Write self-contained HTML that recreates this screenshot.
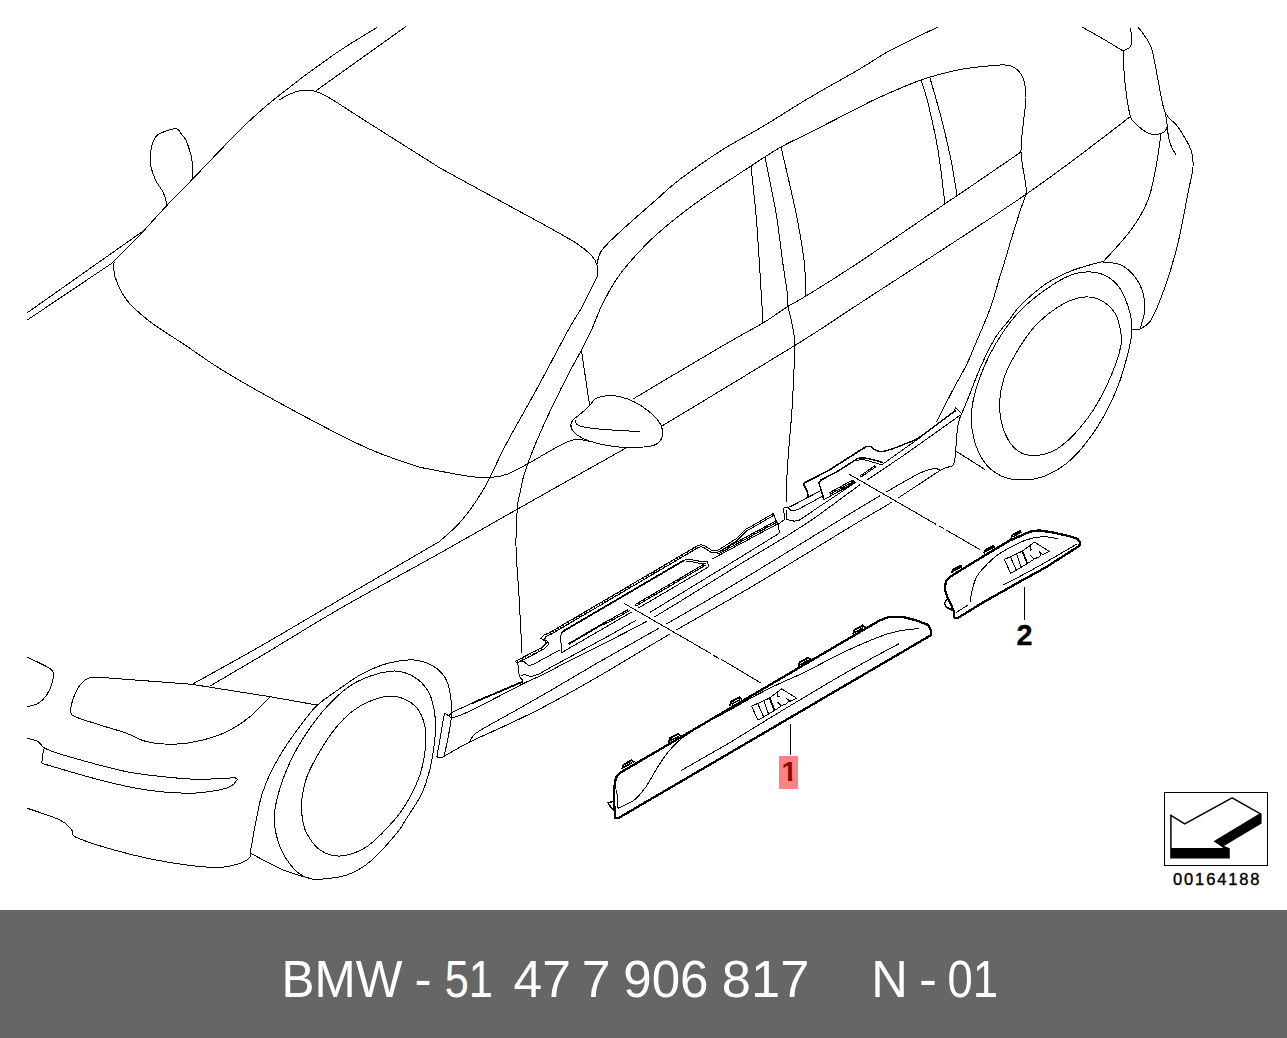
<!DOCTYPE html>
<html lang="en">
<head>
<meta charset="utf-8">
<title>BMW - 51 47 7 906 817 N - 01</title>
<style>
html,body{margin:0;padding:0;background:#fff;}
body{width:1287px;height:1038px;position:relative;overflow:hidden;font-family:"Liberation Sans",sans-serif;}
#draw{position:absolute;left:0;top:0;width:1287px;height:1038px;display:block;}
#draw path{fill:none;stroke:#000;stroke-width:1;stroke-linecap:butt;stroke-linejoin:round;shape-rendering:crispEdges;}
#draw .f{fill:#000;stroke:none;}
#draw text{font-family:"Liberation Sans",sans-serif;}
</style>
</head>
<body>
<svg id="draw" width="1287" height="1038" viewBox="0 0 1287 1038">
<rect x="0" y="0" width="1287" height="910" fill="#fff"/>
<path d="M27.3,312.7 L141,232.5"/>
<path d="M27.3,320 L112.5,262.8 L141.7,233"/>
<path d="M141.7,233 C145.9,228.4 158.4,214.5 166.7,205.7 C175,196.9 178.9,193.2 191.7,180 C204.5,166.8 229.1,140.5 243.3,126.7 C257.5,112.9 261.7,109.2 276.7,97.3 C291.7,85.3 316.5,66.7 333.3,55 C350.1,43.3 370,31.9 377.3,27.3"/>
<path d="M316,90.7 L405.7,26.7"/>
<path d="M167,205 C166.4,203 165.4,197.2 163.5,193 C161.6,188.8 157.6,184.4 155.5,180 C153.4,175.6 151.8,171 151,166.6 C150.2,162.2 150.4,157.5 150.6,153.6 C150.8,149.7 151.4,146.3 152.4,143.3 C153.4,140.3 155,137.5 156.8,135.6 C158.6,133.7 161.1,133.1 163.3,132.1 C165.5,131.1 167.5,130.3 169.8,129.8 C172.1,129.3 175.3,128.2 177.3,129.1 C179.3,129.9 180.6,133.2 182,134.9 C183.4,136.7 184.6,137.6 185.7,139.6 C186.8,141.6 187.6,144.2 188.5,147 C189.4,149.8 190.7,153.1 191.3,156.4 C192,159.7 192.2,162.7 192.4,166.6 C192.6,170.5 192.5,177.8 192.5,180"/>
<path d="M279.3,100 C281.1,99 286.3,95.6 290,94 C293.7,92.4 297.8,91 301.7,90.5 C305.6,90 308.6,89.4 313.3,90.7 C318,92 321.1,93.1 330,98.3 C338.9,103.5 350.2,111.2 366.7,121.7 C383.2,132.2 415.3,152.4 429,161 C442.7,169.6 430.7,162.8 449,173 C467.3,183.2 517.8,210.3 539,222 C560.2,233.7 567.3,237.5 576,243 C584.7,248.5 587.5,251.3 591,255 C594.5,258.7 596,261.3 597,265 C598,268.7 597,275 597,277"/>
<path d="M114,261.7 C114.2,264.2 112.9,270.3 115,276.7 C117.1,283.1 120.9,292.5 126.7,300 C132.5,307.5 140.3,314.2 150,321.7 C159.7,329.2 172.2,336.4 185,345 C197.8,353.6 207.8,361.5 227,373 C246.2,384.5 276.7,401.5 300,414 C323.3,426.5 348.2,439.5 367,448 C385.8,456.5 402.7,461.5 413,465 C423.3,468.5 419.4,467.1 429,469 C438.6,470.9 460.1,475.1 470.3,476.5 C480.6,477.9 484.4,477.9 490.5,477.5 C496.6,477.1 500.6,476.6 506.7,474.4 C512.8,472.2 516.5,469.9 526.9,464.3 C537.3,458.8 558.9,444.9 569.3,441.1 C579.7,437.3 586.1,441.3 589.5,441.3"/>
<path d="M597,277 C594.5,282 586.8,298.2 582,307 C577.2,315.8 575.8,316.4 568.3,330 C560.8,343.6 547.3,369.8 537,388.6 C526.7,407.5 515.6,426.3 506.7,443.1 C497.8,459.9 490.8,476.8 483.4,489.6 C475.9,502.4 469.2,511.4 462,520 C454.8,528.6 445.5,536.4 440,541 C434.5,545.6 445.4,538 429,547.6 C412.6,557.2 369.6,582.2 341.6,598.6 C313.6,615 285.6,631.8 260.8,646 C236.1,660.2 204.4,677.5 193.1,683.8"/>
<path d="M597,264 C597.8,261.7 597.8,255.7 602,250 C606.2,244.3 613,238.3 622,230 C631,221.7 646.5,208.3 656,200 C665.5,191.7 668,188.3 679,180 C690,171.7 708.2,158.8 722,150 C735.8,141.2 747.5,135.7 762,127 C776.5,118.3 793,107.5 809,98 C825,88.5 844.3,78 858,70 C871.7,62 877.7,57.2 891,50 C904.3,42.8 930.2,30.8 938,27"/>
<path d="M522,653 C521.5,643.5 520,613.8 519,596 C518,578.2 516.2,561 516,546 C515.8,531 516.7,515.4 517.5,506 C518.3,496.6 519.8,494.7 520.8,489.6 C521.8,484.5 522.1,481.2 523.8,475.5 C525.5,469.8 528,462.7 530.9,455.3 C533.8,447.9 537.3,439.4 541,431 C544.7,422.6 548.4,414.5 553.1,404.7 C557.8,394.9 564.6,381.5 569.3,372.4 C574,363.3 577.7,357.3 581.4,350.2 C585.1,343.1 588.1,337.5 591.5,330 C594.9,322.5 597.9,313.3 602,305 C606.1,296.7 611.5,287 616,280 C620.5,273 622.3,270.5 629,263 C635.7,255.5 644.8,245 656,235 C667.2,225 680.2,214.5 696,203 C711.8,191.5 736.8,175.3 751,166 C765.2,156.7 771.3,152.5 781,147 C790.7,141.5 796.2,139.5 809,133 C821.8,126.5 846.5,113.8 858,108 C869.5,102.2 867.5,102.7 878,98 C888.5,93.3 907.7,84.7 921,80 C934.3,75.3 946.8,72.3 958,70 C969.2,67.7 980.2,66.8 988,66 C995.8,65.2 1000.5,64.7 1005,65 C1009.5,65.3 1012,65.8 1015,68 C1018,70.2 1021.2,73.2 1023,78 C1024.8,82.8 1025.8,90.5 1026,97 C1026.2,103.5 1024.8,107.8 1024,117 C1023.2,126.2 1020.8,141.5 1021,152 C1021.2,162.5 1024.2,173.2 1025,180 C1025.8,186.8 1026.8,187.9 1026,193 C1025.2,198.1 1022,204.9 1020.2,210.5 C1018.4,216.1 1016.9,221.3 1015.2,226.7 C1013.5,232.1 1011.6,237.8 1010.1,242.8 C1008.6,247.9 1007.8,251.4 1006.1,257 C1004.4,262.6 1002.7,267.5 1000,276.2 C997.3,284.9 994.2,297.5 990,309 C985.8,320.5 978.9,335.8 975,345 C971.1,354.2 970.5,356.8 966.7,364.4 C963,372 957.5,381.1 952.5,390.7 C947.5,400.3 939.1,416.8 936.4,422"/>
<path d="M751,166 C752,176.2 755,200.8 757,227 C759,253.2 762,307 763,323"/>
<path d="M765,157 C766.8,166.3 772.9,194.5 776,213 C779.1,231.5 781.7,255.2 783.5,268 C785.3,280.8 786.2,283.6 786.9,290 C787.6,296.4 787.2,301.5 787.9,306.2 C788.6,310.9 790,314.3 790.9,318.3 C791.8,322.3 792.6,326 793.3,330.4 C794,334.8 794.7,339.4 794.9,344.5 C795.1,349.6 794.5,354.6 794.3,360.7 C794.1,366.8 793.9,372.5 793.5,380.9 C793.1,389.3 792.5,402.1 791.9,411.2 C791.3,420.3 790.7,425.7 789.9,435.5 C789.1,445.3 787.9,458.6 787.3,469.8 C786.6,481.1 786.2,497.5 786,503"/>
<path d="M781,147 C783.5,158 792.2,194.2 796,213 C799.8,231.8 802.3,246.2 804,260 C805.7,273.8 805.7,290 806,296"/>
<path d="M633,399 C648.2,390 702.3,357.7 724,345 C745.7,332.3 752.5,329.3 763,323 C773.5,316.7 779.8,311.5 787,307 C794.2,302.5 794.2,303.3 806,296 C817.8,288.7 834.8,278.4 858,263 C881.2,247.6 928.5,215 945,203.8 C961.5,192.6 944.3,204.4 957,195.8 C969.7,187.2 1010.3,159.3 1021,152"/>
<path d="M210.3,685.9 C218.7,681 238.9,669.2 260.8,656.2 C282.7,643.2 311.7,624.9 341.6,607.7 C371.5,590.5 408.6,570.7 440,553.1 C471.4,535.5 499,519.5 530,502 C561,484.5 610,457 626,448"/>
<path d="M662,426 C684,412.7 761.3,366.2 794,346 C826.7,325.8 819.5,329.7 858,304.5 C896.5,279.3 979.7,226.2 1025,195 C1070.3,163.8 1112.5,130 1130,117"/>
<path d="M921,80 C922.2,83.8 925.2,91.3 928,103 C930.8,114.7 935.2,133.2 938,150 C940.8,166.8 943.8,195 945,204"/>
<path d="M930,78 C931.8,84.5 937.5,103.3 941,117 C944.5,130.7 948.3,146.9 951,160 C953.7,173.1 956,189.8 957,195.8"/>
<path d="M1082,27 C1085.8,29.2 1098.2,36 1105,40 C1111.8,44 1120,49.2 1123,51"/>
<path d="M1123,51 C1124.2,50.3 1128.5,49.2 1130,47 C1131.5,44.8 1132,41.2 1132,38 C1132,34.8 1130.3,29.7 1130,28"/>
<path d="M1123,51 C1123.3,56.3 1123.8,72.3 1125,83 C1126.2,93.7 1128.3,108.3 1130,115 C1131.7,121.7 1132,120 1135,123 C1138,126 1143.7,131.2 1148,133 C1152.3,134.8 1157.8,134.5 1161,133.5 C1164.2,132.5 1166.3,130.6 1167,127 C1167.7,123.4 1165.3,114.5 1165,112"/>
<path d="M1138,27 C1140.2,30.3 1147.7,38.2 1151,47 C1154.3,55.8 1155.7,69.2 1158,80 C1160.3,90.8 1161.7,104.2 1165,112 C1168.3,119.8 1173.7,120.7 1178,127 C1182.3,133.3 1188.5,143.3 1191,150 C1193.5,156.7 1193.5,159.8 1193,167 C1192.5,174.2 1190.5,180.3 1188,193 C1185.5,205.7 1181.8,227.3 1178,243 C1174.2,258.7 1169.5,274.2 1165,287 C1160.5,299.8 1155.2,313 1151,320 C1146.8,327 1141.8,327.5 1140,329"/>
<path d="M1167,127 C1167.5,129.7 1168.5,138.3 1170,143 C1171.5,147.7 1175,153 1176,155"/>
<path d="M1161,133.5 C1160.2,139.1 1158.2,155.9 1156,167 C1153.8,178.1 1152.2,189.5 1148,200 C1143.8,210.5 1138.5,219.7 1131,230 C1123.5,240.3 1107.7,256.7 1103,262"/>
<path d="M1132,329 L1140,329"/>
<path d="M1103,261.6 C1100.2,262.3 1091.4,264.4 1086,266 C1080.6,267.6 1075.9,269 1070.7,271.1 C1065.5,273.2 1059.7,276 1055,278.5 C1050.3,281 1048.2,281.8 1042.4,286.3 C1036.6,290.8 1025.8,299.9 1020.2,305.5 C1014.7,311.1 1013.3,314.6 1009.1,320 C1004.9,325.4 999.7,330.4 995,338.2 C990.3,345.9 985.2,356.7 980.8,366.5 C976.4,376.3 971.9,388.9 968.7,396.8 C965.5,404.7 962.8,411.1 961.6,414"/>
<path d="M1103,262 C1106,262.5 1115.7,262.5 1121,265 C1126.3,267.5 1131.3,272.3 1135,277 C1138.7,281.7 1141.3,287.5 1143,293 C1144.7,298.5 1145.5,304 1145,310 C1144.5,316 1140.8,325.8 1140,329"/>
<path d="M1132,329 C1132,323.5 1131.8,319.5 1130,313 C1128.2,306.5 1124.7,296 1121,290 C1117.3,284 1113,280 1108,277 C1103,274 1097.2,272.3 1091,272 C1084.8,271.7 1078.7,272 1071,275 C1063.3,278 1053.8,283.7 1045,290 C1036.2,296.3 1026.3,303.8 1018,313 C1009.7,322.2 1001.7,333.4 995,345 C988.3,356.6 981.9,371.4 978,382.7 C974.1,394 972.2,403.3 971.5,412.7 C970.8,422.1 971.8,431 974,439.3 C976.2,447.6 980.2,456.6 984.7,462.7 C989.2,468.8 995.2,473.1 1001.3,476 C1007.4,478.9 1014.1,480 1021.3,480 C1028.5,480 1036.4,479.4 1044.7,476 C1053,472.6 1062.4,467.6 1071.3,459.3 C1080.2,451 1090.2,438.2 1098,426 C1105.8,413.8 1112.7,399.3 1118,386 C1123.3,372.7 1127.4,355.5 1129.7,346 C1132,336.5 1132,334.5 1132,329Z"/>
<path d="M1021,345 C1026.5,336.2 1031.8,329.3 1038,323 C1044.2,316.7 1051.3,311.2 1058,307 C1064.7,302.8 1071.8,299.5 1078,298 C1084.2,296.5 1089.7,296.5 1095,298 C1100.3,299.5 1106.2,303.3 1110,307 C1113.8,310.7 1116.2,313.7 1118,320 C1119.8,326.3 1122.7,334.6 1121,345 C1119.3,355.4 1113.5,370.6 1108,382.7 C1102.5,394.8 1095.8,407.1 1088,417.7 C1080.2,428.2 1069.6,439.7 1061.3,446 C1053,452.3 1045.2,454.5 1038,455.3 C1030.8,456.1 1023.5,454.8 1018,451 C1012.5,447.2 1007.8,440.2 1004.7,432.7 C1001.7,425.2 999.7,415.4 999.7,406 C999.7,396.6 1001.2,386.2 1004.7,376 C1008.2,365.8 1015.5,353.8 1021,345Z"/>
<path d="M956.5,451.5 L984.7,469.3"/>
<path d="M589.5,405.8 C592.2,403.1 592.6,400.4 595.6,398.7 C598.6,397 603.7,396 607.7,395.7 C611.7,395.4 615.4,395.7 619.8,396.7 C624.2,397.7 629.2,399.3 633.9,401.7 C638.6,404.1 643.9,407.4 648.1,410.8 C652.3,414.2 656.8,418.5 659.2,421.9 C661.6,425.3 662.3,428.1 662.6,431 C662.9,433.9 662.6,436.7 661.2,439.1 C659.8,441.5 658.7,443.8 654.1,445.2 C649.5,446.6 641,447.4 633.9,447.6 C626.8,447.8 619.1,447.3 611.7,446.2 C604.3,445.1 595.2,443 589.5,441.1 C583.8,439.2 580.4,437.3 577.4,435.1 C574.4,432.9 572.1,430.4 571.3,428 C570.4,425.6 570.9,423.1 572.3,420.9 C573.6,418.7 576.5,417.3 579.4,414.8 C582.3,412.3 586.8,408.5 589.5,405.8Z"/>
<path d="M575.4,419.9 C575.7,420.7 575,423.5 577.4,424.9 C579.8,426.2 583.8,427.1 589.5,428 C595.2,428.9 603.3,429.4 611.7,430 C620.1,430.6 635.3,431.3 640,431.6"/>
<path d="M581.4,350.2 L589.5,404.7"/>
<path d="M27.3,657.3 C31.4,659.4 47.5,665.9 51.7,670 C55.9,674.1 53.1,677.5 52.3,681.7 C51.5,685.9 49,691.4 46.7,695 C44.4,698.6 41.5,701.3 38.3,703.3 C35.1,705.2 29.1,706.1 27.3,706.7"/>
<path d="M270,696.7 C266.7,700 257.2,710.9 250,716.7 C242.8,722.5 235,727.7 226.7,731.7 C218.4,735.7 208.9,738.6 200,740.7 C191.1,742.8 182.2,744.1 173.3,744.3 C164.4,744.5 154.5,743.5 146.7,741.7 C138.9,739.9 134.5,736.1 126.7,733.3 C118.9,730.5 108.3,727.7 100,725 C91.7,722.3 81.6,719.5 76.7,717.3 C71.8,715.1 71.3,714.9 70.7,711.7 C70.1,708.5 71.8,702.8 73.3,698.3 C74.8,693.8 77.5,688.3 80,685 C82.5,681.7 85,679.6 88.3,678.3 C91.6,677 98,677.5 100,677.3"/>
<path d="M100,677.3 L191.7,684.3 L270,696.7 L316.7,705"/>
<path d="M27.3,738.3 C29.1,738.9 35.3,740 38.3,741.7 C41.2,743.4 40.3,745.9 45,748.3 C49.7,750.7 53.1,752.1 66.7,756 C80.3,759.9 108.9,768.1 126.7,771.7 C144.5,775.3 161.1,776.4 173.3,777.7 C185.5,779 189.7,779.3 200,779.3 C210.3,779.3 229.2,778 235,777.7"/>
<path d="M235,777.7 C235.3,778.1 237.8,778.5 237,780 C236.2,781.5 233.9,784.9 230,786.7 C226.1,788.5 220.5,789.9 213.3,791 C206.1,792.1 197.8,793.5 186.7,793.3 C175.6,793.1 161.1,792.2 146.7,790 C132.2,787.8 117.5,784.5 100,780 C82.5,775.5 51.4,766.1 41.7,763.3"/>
<path d="M41.7,763.3 L43.5,749.5"/>
<path d="M27.3,808.3 C32.8,810.2 52.6,816.4 60,820 C67.4,823.6 68.7,827 71.7,830 C74.8,833 68,834.1 78.3,838.3 C88.6,842.5 115.2,850.5 133.3,855 C151.4,859.5 172.2,863 186.7,865 C201.1,867 211.1,867.6 220,867.3 C228.9,867 235,865 240,863.3 C245,861.6 248.2,859.5 250,857.3 C251.8,855.1 250.6,851.2 250.7,850"/>
<path d="M250.7,850 C251.6,845 254.3,829.2 256.2,819.8 C258.1,810.4 259.5,801.9 262.2,793.5 C264.9,785.1 268.2,777.4 272.3,769.3 C276.4,761.2 281.4,752.9 286.5,745.1 C291.6,737.4 297.6,729.4 302.6,722.8 C307.7,716.2 311.1,711.1 316.8,705.7 C322.5,700.3 329.6,695.7 337,690.5 C344.4,685.3 353.8,678.5 361.2,674.3 C368.6,670.1 374.7,667.6 381.4,665.3 C388.1,663 395.9,661.5 401.6,660.6 C407.3,659.8 411.1,659.6 415.8,660.2 C420.5,660.8 425.5,662 429.9,664.2 C434.3,666.4 439,669.9 442,673.3 C445,676.7 446.6,679.8 448.1,684.4 C449.6,689 450.5,695.5 451.1,700.6 C451.7,705.7 451.8,709.8 451.5,714.7 C451.2,719.6 450.7,723.3 449.5,730 C448.3,736.7 445.3,750.8 444.5,755"/>
<path d="M250.7,853.3 C256.1,856.1 272.9,865.7 283.3,870 C293.7,874.3 308.3,877.8 313.3,879.3"/>
<path d="M274.3,819.8 C274,810.9 275.7,803.3 278.4,793.5 C281.1,783.7 285.8,771.3 290.5,761.2 C295.2,751.1 300.6,742 306.7,732.9 C312.8,723.8 319.8,714.4 326.9,706.7 C334,699 342,691.5 349.1,686.5 C356.2,681.5 362.6,678.9 369.3,676.4 C376,673.9 383.8,672 389.5,671.3 C395.2,670.6 398.9,670.9 403.6,672.3 C408.3,673.6 413.6,676 417.8,679.4 C422,682.8 426.2,687.6 428.9,692.5 C431.6,697.4 432.8,703 433.9,708.7 C435,714.4 435.6,720.5 435.6,726.9 C435.6,733.3 434.8,740 433.9,747.1 C432.9,754.2 431.9,761.6 429.9,769.3 C427.9,777 425.8,785.1 421.8,793.5 C417.8,801.9 409.9,813.2 405.7,819.8 C401.5,826.4 402.6,826.3 396.7,833.3 C390.8,840.3 378.3,854.8 370,861.7 C361.7,868.7 355,872.1 346.7,875 C338.4,877.9 326.7,878.8 320,879.3 C313.3,879.8 311.1,879.5 306.7,877.7 C302.2,875.9 297.8,873.5 293.3,868.3 C288.9,863.1 283.2,854.8 280,846.7 C276.8,838.6 274.6,828.7 274.3,819.8Z"/>
<path d="M302.6,819.8 C301.7,814.4 300.9,808.7 301.6,801.6 C302.3,794.5 303.8,785.5 306.7,777.4 C309.6,769.3 314.1,761.2 318.8,753.1 C323.5,745 329.2,736 334.9,728.9 C340.6,721.8 347,715.4 353.1,710.7 C359.2,706 365.2,703 371.3,700.6 C377.4,698.2 384.1,696.5 389.5,696.2 C394.9,695.9 399.2,696.9 403.6,698.6 C408,700.4 412.6,703.3 415.8,706.7 C419,710.1 421.1,714.1 422.8,718.8 C424.5,723.5 425.6,729.2 425.9,734.9 C426.2,740.6 425.8,746.4 424.8,753.1 C423.8,759.9 422.3,768 419.8,775.4 C417.3,782.8 413.9,790.2 409.7,797.6 C405.5,805 401.7,811.6 394.5,819.8 C387.3,828 375.8,840.7 366.7,846.7 C357.6,852.7 347.8,855.5 340,856 C332.2,856.5 325.5,853.7 320,850 C314.5,846.3 309.9,839 307,834 C304.1,829 303.5,825.2 302.6,819.8Z"/>
<path d="M444.5,713.2 L448.8,715.8 L452,712.3 L472.7,702.9"/>
<path d="M472.7,702.9 L523.2,681.5" style="stroke-width:1.8"/>
<path d="M444.5,713.2 L442.8,722.6 L439.4,743 L436.8,756.8 L441,758"/>
<path d="M448.8,716.6 C449.4,716.7 451,718.3 454,717.4 C457,716.5 466,713 474.4,708.9 C482.8,704.8 517.9,686.3 525.7,682.4 C533.5,678.5 535.8,678.2 541,675.6 C546.2,673 557.3,667 570,660.5 C582.7,654 630.2,630.7 650,619.5 C669.8,608.3 724.4,573.7 740,564.2 C755.6,554.7 774.6,543.5 783.5,538 C792.4,532.5 807.2,523.1 816.2,516.8 C825.2,510.5 850.5,491.4 860.8,484.2 C871.1,477 893,462.8 904.6,454.7 C916.2,446.6 954.1,419.5 960.6,414.9"/>
<path d="M469.3,742.2 C470,741.2 472.3,736.4 474.4,734.5 C476.5,732.6 479.2,730.9 484.7,727.7 C490.2,724.5 506.8,715.5 515.5,710.6 C524.2,705.7 538.4,697.5 549.7,691 C561,684.5 584.5,670.4 600,661.5 C615.5,652.6 647.1,635 665.8,624.3 C684.5,613.6 717.6,594.4 740,581 C762.4,567.6 814.9,535.2 833.7,523.7 C852.5,512.2 869.9,501.6 881,495.1 C892.1,488.6 910.5,478 917,474.6 C923.5,471.2 927,470.4 929.5,469.6 C932,468.8 934.4,468.3 935.7,468.4 C937,468.5 939,469.8 939.5,470"/>
<path d="M441,758 C444.8,755.9 459.8,746.9 469.3,742.2 C478.8,737.5 501.3,727.7 512,722.6 C522.7,717.5 538,710.1 549.7,703.8 C561.4,697.5 583.2,685.4 600,675.6 C616.8,665.8 654.9,642.7 676,630.3 C697.1,617.9 734.6,596.9 758.5,582.7 C782.4,568.5 837.8,534.4 855.5,523.7 C873.2,513 879.8,509.6 891,502.6 C902.2,495.6 931.4,475.8 939.5,470.9 C947.6,466 949.9,467.1 951.9,465.9 C953.9,464.7 953.9,464 954.4,462.2 C954.9,460.4 955.2,457 955.6,452.2 C956,447.4 956.9,431.2 957.7,426 C958.5,420.8 960.9,415.2 961.4,413.5"/>
<path d="M954.4,411.2 L955.6,407.4 L958.1,409.9 L961.8,413.7"/>
<path d="M954.9,410.1 L956.4,412.5"/>
<path d="M515.4,661.3 L542.7,647 L546.5,643.2 L545,641 L541,638.5 L543.5,635.3 L549.6,632.6 L696.6,546.2 L700.9,544.5 L705,546 L712,550.5 L717,550.5 L722,547.7 L735.7,539.1 L746,528.9 L752.8,525.5 L773.3,513.5 L775.9,520.3 L778.5,525.5 L779.3,533.2"/>
<path d="M550.1,633.5 L697.1,547.1" style="stroke-width:2;stroke-dasharray:1 2"/>
<path d="M517,662 L543.5,648" style="stroke-width:2;stroke-dasharray:1 2"/>
<path d="M517.5,663 L544,649 L548.8,644 L547.5,641.5 L544.5,639.5 L546,636.5 L551,634.3 L697.6,548 L700.9,546.6 L704,547.7 L711,552.3 L717.4,552.4 L722.6,549.6"/>
<path d="M716.9,552.8 L776.4,520.6"/>
<path d="M717.7,554.3 L777.2,522.1"/>
<path d="M717.3,553.5 L776.8,521.4" style="stroke-width:2.2;stroke-dasharray:1 2"/>
<path d="M722.6,549.6 L736.5,541 L746.5,531 L753,527.3 L773.8,515.3"/>
<path d="M711.8,559.2 L777.4,524"/>
<path d="M515.4,661.3 L518,664.5 L518.5,673 L520.5,678 L523.2,680.7"/>
<path d="M518,662.3 L523.2,661 L528.3,665.3 L532.6,664.8 L559.9,649.9"/>
<path d="M520.6,676.4 L524,674.4 L530.9,676.8 L539.4,673.8 L549.7,667.9 L611.2,634.5 L636,620.3"/>
<path d="M649.6,612.6 L740,557.5 L779.3,533.2"/>
<path d="M561.5,652.7 L560.7,636 L562,632.5 L564.5,630.5 L567,629 L684.6,560 L688,559 L693,560 L701.7,561.6 L707.7,561.6 L708.5,566.7"/>
<path d="M562,632.5 L564.5,630.5 L684.6,560" style="stroke-width:1.8"/>
<path d="M561.5,652.7 L630,613 L708,567.2"/>
<path d="M568.4,644.2 L603.3,623.6" style="stroke-width:1.8"/>
<path d="M603.3,623.2 L629.4,608.8"/>
<path d="M604.1,624.7 L630.2,610.3"/>
<path d="M603.7,624 L629.8,609.5" style="stroke-width:2.2;stroke-dasharray:1 2"/>
<path d="M635,604.6 L705,563.6"/>
<path d="M635.8,606.1 L705.8,565.1"/>
<path d="M635.4,605.4 L705.4,564.4" style="stroke-width:2.2;stroke-dasharray:1 2"/>
<path d="M686,561.2 L693,562 L701,563.6 L706,564"/>
<path d="M783.5,508.1 L787.9,507.6 L805.3,498.8 L808,496.7"/>
<path d="M808,496.7 L807.5,491.8 L805.3,488 L803.7,484.2 L805.3,482.5 L829.3,470 L866.1,446.6" style="stroke-width:1.6"/>
<path d="M866.1,446.6 C866.8,446.6 870.1,446.3 871,446.6 C871.9,446.9 871.7,447.8 872.9,448.5 C874.1,449.2 877.6,451.4 879.8,451.6 C882,451.8 886.4,450.7 889.7,449.7 C893,448.7 900.6,445.8 904.6,444.1 C908.6,442.4 913,441.7 919.6,437.3 C926.2,432.9 949.8,414.7 954.4,411.2" style="stroke-width:1.4"/>
<path d="M783.5,508.1 L784.1,513.5 L784.6,519.5 L780.3,522.8 L777,524"/>
<path d="M786.3,509.7 L786.8,519.5 L794.4,521.2 L799.3,520.1 L857,481.4 L861,484"/>
<path d="M787.9,507.6 L791.2,510.8 L797.7,509.7 L822.7,496.1"/>
<path d="M791.2,506.3 L821,490.5"/>
<path d="M823.8,499.9 L822.7,495 L818.9,483.1 L820.6,480.3 L838,471.1 L854.9,460.3 L858.6,457.8" style="stroke-width:1.5"/>
<path d="M858.6,457.8 C860,457.9 864.2,457.9 867.3,458.4 C870.4,458.9 874.7,460.2 877.3,460.9 C879.9,461.6 882,462.5 882.9,462.8" style="stroke-width:1.5"/>
<path d="M856,460.2 C857.5,460.2 861.7,459.5 865,460 C868.3,460.5 872.6,462.2 875.6,463 C878.6,463.8 881.7,464.7 882.9,465"/>
<path d="M882.9,464 L904.6,448.5 L919.6,437.9"/>
<path d="M823.8,499.9 L856.7,480.8"/>
<path d="M829.3,492.8 L853.2,479.7"/>
<path d="M830.1,494.3 L854,481.2"/>
<path d="M829.7,493.6 L853.6,480.4" style="stroke-width:2.2;stroke-dasharray:1 2"/>
<path d="M832,495.2 L856,482.3"/>
<path d="M859.9,476 L875.4,465.4"/>
<path d="M860.6,477.3 L876.1,466.7"/>
<path d="M860.2,476.6 L875.8,466" style="stroke-width:2.2;stroke-dasharray:1 2"/>
<path d="M625.5,604.2 L692,642.6" style="stroke-width:6.5;stroke:#fff"/>
<path d="M850.5,475 L899,503" style="stroke-width:6.5;stroke:#fff"/>
<path d="M624.3,603.5 L710.8,653.5"/>
<path d="M713.3,655.3 L718.9,658.4"/>
<path d="M721.3,659.4 L760.5,682.7"/>
<path d="M849.3,474.3 L936.2,524.4"/>
<path d="M938.5,525.6 L943.7,528.5"/>
<path d="M946.1,530 L979.9,549.5"/>
<path d="M790.4,724 L790.4,754.8" style="stroke-width:1.1"/>
<path d="M1024.5,587.4 L1024.5,619.5" style="stroke-width:1.1"/>
<path d="M614.9,781.7 L616.8,776.2 L620.6,772.4 L626.1,769.3 L879.5,620.5 L889.5,616.8 L901.9,616.8 L916.8,620.5 L928,624.9 L931.1,630.5 L931.3,635 L619.1,817.7 L615.2,817.7 L614.4,808.1 L614.1,792.6Z" style="stroke-width:2.3"/>
<path d="M618.3,808.1 C620.4,807.1 630.2,803.2 633.9,800.3 C637.6,797.4 643.2,790.6 646.3,786.3 C649.4,782 654.3,772.2 657.2,767.7 C660.1,763.2 664.7,756.1 668,752.2 C671.3,748.3 677.2,741.9 682,738.2 C686.8,734.5 697.4,728 703.8,724.2 C710.2,720.4 722.9,713.8 730,709.9 C737.1,706 750.3,698.3 757,694.8 C763.7,691.3 773.6,686.3 780,683.3 C786.4,680.3 796.6,676.2 804.9,672.1 C813.2,668 832.3,657.6 842.2,652.9 C852.1,648.2 872,639.6 879.5,636.7 C887,633.8 893,632.2 898.2,631.1 C903.4,630 916,628.8 918.7,628.4"/>
<path d="M681.2,770.5 C686.1,767.7 720.1,748.4 730,742.5 C739.9,736.6 770,717.8 780,711.8 C790,705.8 821.1,687.2 829.8,682.1 C838.5,677 860.1,664.8 867.1,660.9 C874.1,657 896.2,645.2 899.4,643.5"/>
<path d="M616.8,789.5 L617.6,808"/>
<path d="M613.7,801.2 L608.2,802.7 L611.3,808.3 L615.2,810.4" style="stroke-width:1.5"/>
<path d="M622,769.2 L623.6,764.7 L631.7,760.3 L634.1,762.3" style="stroke-width:1.9"/>
<path d="M624,767.2 L632.3,762.6" style="stroke-width:1.5"/>
<path d="M668.4,742.8 L670,738.3 L678.1,733.9 L680.5,735.9" style="stroke-width:1.9"/>
<path d="M670.4,740.8 L678.7,736.2" style="stroke-width:1.5"/>
<path d="M729.7,706.2 L731.3,701.7 L739.4,697.3 L741.8,699.3" style="stroke-width:1.9"/>
<path d="M731.7,704.2 L740,699.6" style="stroke-width:1.5"/>
<path d="M798.4,666.6 L800,662.1 L808.1,657.7 L810.5,659.7" style="stroke-width:1.9"/>
<path d="M800.4,664.6 L808.7,660" style="stroke-width:1.5"/>
<path d="M853.1,634.3 L854.7,629.8 L862.8,625.4 L865.2,627.4" style="stroke-width:1.9"/>
<path d="M855.1,632.3 L863.4,627.7" style="stroke-width:1.5"/>
<path d="M751.6,706.3 L769.6,698 L781.7,688.9 L796.8,698.3 L789.8,701.3 L786.2,698"/>
<path d="M786.2,698 C786.6,698.5 788.2,700.1 788.3,701 C788.4,701.9 787.9,702.8 786.7,703.6 C785.5,704.4 782.1,705.4 781.2,705.8"/>
<path d="M781.2,706 L774.6,710.4 L758,720.2 L751.6,706.3"/>
<path d="M757.5,703.1 L763.5,716.7"/>
<path d="M763.5,699.8 L768.5,713.9"/>
<path d="M769.6,698 L774.6,710.4" style="stroke-width:1.7"/>
<path d="M777.1,692 L777.9,697 L779.4,696.2"/>
<path d="M777.7,702.3 L780.9,705.3"/>
<path d="M946,581 L950.5,576.5 L983.8,556 L1009.5,540.6 L1030,531.7 L1039,530.4 L1051.8,532.3 L1069.7,536.2 L1077.4,538.7 L1080,542.6 L1079.4,545.8 L1045.4,567.6 L1019.7,581.7 L981.3,603.5 L957.6,618.2 L954.4,617.6 L953.7,611.2 L951.2,604.7 L947.3,597.1 L944.7,589.4Z" style="stroke-width:2.3"/>
<path d="M946.7,599.6 L944.4,603.5 L946,606.7 L952.4,610.5" style="stroke-width:1.6"/>
<path d="M956.3,612.4 L968.5,604.7"/>
<path d="M970.4,602.2 C970.6,600.8 970.9,595.2 971.7,591.9 C972.5,588.6 974.6,581 976.2,577.8 C977.8,574.6 980.9,570.7 983.8,567.6 C986.7,564.5 993.2,558 998,554.7 C1002.8,551.4 1015.1,544.8 1019.7,542.6 C1024.3,540.4 1029.2,538.9 1032.6,538.1 C1036,537.3 1042,536.7 1045.4,536.8 C1048.8,536.9 1056.5,538.4 1058.2,538.7"/>
<path d="M1002.4,585.3 C1004.1,584.4 1015.4,578.8 1019.7,576.5 C1024,574.2 1039.6,565.7 1045.4,562.4 C1051.2,559.1 1074.2,545.7 1077.4,543.8"/>
<path d="M951.5,573.3 L953.1,569.3 L960.5,565.7 L962.1,567.6" style="stroke-width:1.8"/>
<path d="M953.1,571.3 L960.7,567.3" style="stroke-width:1.4"/>
<path d="M984,553.6 L985.6,549.6 L993,546 L994.6,547.9" style="stroke-width:1.8"/>
<path d="M985.6,551.6 L993.2,547.6" style="stroke-width:1.4"/>
<path d="M1011,538.8 L1012.6,534.8 L1020,531.2 L1021.6,533.1" style="stroke-width:1.8"/>
<path d="M1012.6,536.8 L1020.2,532.8" style="stroke-width:1.4"/>
<path d="M1004.3,559.5 L1022.3,551.2 L1034.4,542.1 L1049.5,551.5 L1042.5,554.5 L1038.9,551.2"/>
<path d="M1038.9,551.2 C1039.2,551.7 1040.9,553.3 1041,554.2 C1041.1,555.1 1040.6,556 1039.4,556.8 C1038.2,557.6 1034.8,558.6 1033.9,559"/>
<path d="M1033.9,559.2 L1027.3,563.6 L1010.7,573.4 L1004.3,559.5"/>
<path d="M1010.2,556.3 L1016.2,569.9"/>
<path d="M1016.2,553 L1021.2,567.1"/>
<path d="M1022.3,551.2 L1027.3,563.6" style="stroke-width:1.7"/>
<path d="M1029.8,545.2 L1030.6,550.2 L1032.1,549.4"/>
<path d="M1030.4,555.5 L1033.6,558.5"/>
<!-- label 1 -->
<rect x="779" y="756" width="19" height="33" fill="#fd8282"/>
<text x="789.4" y="781" font-size="28" font-weight="bold" text-anchor="middle" fill="#8c0808">1</text>
<rect x="780" y="777.2" width="8.1" height="5" fill="#fd8282"/><rect x="792.3" y="777.2" width="5.4" height="5" fill="#fd8282"/>
<!-- label 2 -->
<text x="1024.5" y="644.9" font-size="28.8" font-weight="bold" text-anchor="middle" fill="#000" stroke="#000" stroke-width="0.3">2</text>
<!-- arrow icon -->
<rect x="1164.5" y="792.5" width="103" height="73" fill="#fff" stroke="#000" stroke-width="1" shape-rendering="crispEdges"/>
<polygon class="f" points="1258.7,814.1 1261.6,813.2 1261.6,823.4 1224,845.9 1229.8,848.2 1229.8,858.6 1170.2,858.6 1170.2,848 1223.4,848 1213.6,841.3"/>
<polyline points="1170.9,848 1170.9,815.3 1184.7,823.9 1232.1,797.9 1260.5,813.8" fill="none" stroke="#000" stroke-width="1.5"/>
<text x="1173" y="884.8" font-size="16.5" textLength="86.5" lengthAdjust="spacing" fill="#000" stroke="#000" stroke-width="0.4">00164188</text>
<rect x="0" y="910" width="1287" height="128" fill="#666666"/>
<g id="cap" font-size="51.5" fill="#fff">
<text x="281.48" y="996.8" textLength="120.93" lengthAdjust="spacingAndGlyphs">BMW</text>
<text x="414.47" y="996.8" textLength="17.18" lengthAdjust="spacingAndGlyphs">-</text>
<text x="444.70" y="996.8" textLength="48.25" lengthAdjust="spacingAndGlyphs">51</text>
<text x="513.48" y="996.8" textLength="57.37" lengthAdjust="spacingAndGlyphs">47</text>
<text x="581.82" y="996.8" textLength="28.83" lengthAdjust="spacingAndGlyphs">7</text>
<text x="623.24" y="996.8" textLength="85.27" lengthAdjust="spacingAndGlyphs">906</text>
<text x="721.87" y="996.8" textLength="87.46" lengthAdjust="spacingAndGlyphs">817</text>
<text x="871.13" y="996.8" textLength="36.61" lengthAdjust="spacingAndGlyphs">N</text>
<text x="919.10" y="996.8" textLength="17.99" lengthAdjust="spacingAndGlyphs">-</text>
<text x="947.44" y="996.8" textLength="50.57" lengthAdjust="spacingAndGlyphs">01</text>
</g>
</svg>
</body>
</html>
